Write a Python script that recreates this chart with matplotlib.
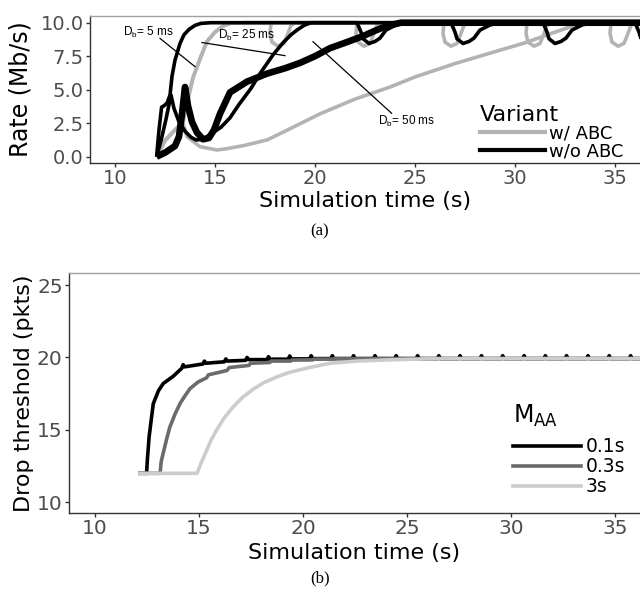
import matplotlib
matplotlib.use("Agg")
import matplotlib.pyplot as plt
from matplotlib.lines import Line2D

plt.rcParams["font.family"] = ["DejaVu Sans"]

# ---- panel (a): rate vs simulation time ----
# w/ ABC (gray)
T_G5 = [12.08, 12.5, 13.0, 13.4, 13.6, 13.9, 14.25, 14.6, 15.0, 15.4, 15.8, 16.5, 36.3]
R_G5 = [0.0, 1.2, 2.0, 2.6, 4.0, 5.9, 7.3, 8.6, 9.3, 9.75, 9.97, 10.0, 10.0]

T_G25 = [12.08, 12.5, 13.0, 13.4, 13.6, 13.9, 14.25, 14.6, 15.0, 15.4, 15.8, 16.5,
         17.8, 17.75, 17.85, 18.15, 18.45, 18.65, 18.8, 19.0,
         22.1, 22.05, 22.15, 22.45, 22.75, 22.95, 23.1, 23.3,
         26.45, 26.4, 26.5, 26.8, 27.1, 27.3, 27.45, 27.65,
         30.6, 30.55, 30.65, 30.95, 31.25, 31.45, 31.6, 31.8,
         34.8, 34.75, 34.85, 35.15, 35.45, 35.65, 35.8, 36.0, 36.3]
R_G25 = [0.0, 1.2, 2.0, 2.6, 4.0, 5.9, 7.3, 8.6, 9.3, 9.75, 9.97, 10.0,
         10.0, 9.2, 8.55, 8.25, 8.45, 9.2, 9.8, 10.0,
         10.0, 9.2, 8.55, 8.25, 8.45, 9.2, 9.8, 10.0,
         10.0, 9.2, 8.55, 8.25, 8.45, 9.2, 9.8, 10.0,
         10.0, 9.2, 8.55, 8.25, 8.45, 9.2, 9.8, 10.0,
         10.0, 9.2, 8.55, 8.25, 8.45, 9.2, 9.8, 10.0, 10.0]

T_G50 = [12.08, 12.5, 13.0, 13.4, 13.6, 14.25, 15.1, 15.6, 16.5, 17.6, 18.5, 20.25,
         22.0, 23.75, 25.0, 27.0, 29.25, 30.5, 32.0, 32.6, 33.3, 36.3]
R_G50 = [0.0, 1.2, 2.0, 2.5, 1.5, 0.75, 0.5, 0.6, 0.85, 1.25, 1.9, 3.2,
         4.3, 5.2, 5.95, 6.95, 7.95, 8.5, 9.3, 9.6, 10.0, 10.0]

# w/o ABC (black)
T_B5 = [12.08, 12.2, 12.33, 12.45, 12.6, 12.75, 12.85, 13.0, 13.25, 13.45, 13.7, 14.0, 14.3, 14.8, 36.3]
R_B5 = [0.0, 2.0, 3.7, 3.8, 4.0, 4.6, 6.0, 7.2, 8.45, 9.1, 9.5, 9.8, 9.95, 10.0, 10.0]

T_B25 = [12.08, 12.3, 12.55, 12.8, 12.95, 13.2, 13.5, 13.8, 14.05, 14.4, 14.8, 15.3, 15.75,
         16.2, 16.8, 17.25, 17.9, 18.4, 18.8, 19.1, 19.45, 19.8,
         22.1, 22.3, 22.4, 22.7, 23.0, 23.25, 23.55, 24.05, 24.55,
         26.8, 27.0, 27.1, 27.4, 27.7, 27.95, 28.25, 28.75, 29.25,
         31.4, 31.6, 31.7, 32.0, 32.3, 32.55, 32.85, 33.35, 33.85,
         36.0, 36.2, 36.3, 36.6]
R_B25 = [0.0, 1.2, 2.8, 4.6, 3.6, 2.6, 1.9, 1.45, 1.25, 1.3, 1.7, 2.2, 2.9,
         3.9, 5.1, 6.2, 7.6, 8.5, 9.1, 9.45, 9.8, 10.0,
         10.0, 9.3, 8.8, 8.45, 8.6, 8.85, 9.45, 9.83, 10.0,
         10.0, 9.3, 8.8, 8.45, 8.6, 8.85, 9.45, 9.83, 10.0,
         10.0, 9.3, 8.8, 8.45, 8.6, 8.85, 9.45, 9.83, 10.0,
         10.0, 9.3, 8.8, 8.45]

T_B50 = [12.08, 12.5, 13.0, 13.2, 13.35, 13.5, 13.65, 13.85, 14.1, 14.4, 14.7, 14.95, 15.25,
         15.75, 16.6, 17.6, 18.5, 19.25, 20.0, 20.75, 21.5, 22.4, 23.0, 23.5, 24.0, 24.3, 36.3]
R_B50 = [0.0, 0.3, 0.8, 1.5, 3.2, 5.2, 3.8, 2.6, 1.8, 1.3, 1.4, 2.0, 3.2,
         4.8, 5.6, 6.2, 6.6, 7.0, 7.5, 8.1, 8.5, 9.0, 9.4, 9.7, 9.9, 10.0, 10.0]

# ---- panel (b): drop threshold ----
T_01 = [12.16, 12.48, 12.52, 12.6, 12.8, 13.05, 13.28, 13.76,
        14.17, 14.24, 14.31, 15.19, 15.26, 15.33, 16.22, 16.29, 16.36,
        17.24, 17.31, 17.38, 18.27, 18.34, 18.41, 19.29, 19.36, 19.43,
        20.32, 20.39, 20.46, 21.34, 21.41, 21.48, 22.36, 22.43, 22.50,
        23.39, 23.46, 23.53, 24.41, 24.48, 24.55, 25.44, 25.51, 25.58,
        26.46, 26.53, 26.60, 27.48, 27.55, 27.62, 28.51, 28.58, 28.65,
        29.53, 29.60, 29.67, 30.56, 30.63, 30.70, 31.58, 31.65, 31.72,
        32.60, 32.67, 32.74, 33.63, 33.70, 33.77, 34.65, 34.72, 34.79,
        35.68, 35.75, 35.82, 36.3]
V_01 = [12.0, 12.0, 13.0, 14.5, 16.8, 17.7, 18.2, 18.7,
        19.25, 19.5, 19.35, 19.55, 19.75, 19.6, 19.7, 19.9, 19.75,
        19.8, 20.0, 19.85, 19.85, 20.05, 19.88, 19.88, 20.1, 19.9,
        19.9, 20.12, 19.92, 19.92, 20.12, 19.92, 19.92, 20.12, 19.92,
        19.92, 20.12, 19.92, 19.92, 20.12, 19.92, 19.92, 20.12, 19.92,
        19.92, 20.12, 19.92, 19.92, 20.12, 19.92, 19.92, 20.12, 19.92,
        19.92, 20.12, 19.92, 19.92, 20.12, 19.92, 19.92, 20.12, 19.92,
        19.92, 20.12, 19.92, 19.92, 20.12, 19.92, 19.92, 20.12, 19.92,
        19.92, 20.12, 19.92, 19.92]

T_03 = [12.16, 13.13, 13.18, 13.28, 13.45, 13.6, 13.85, 14.1, 14.35, 14.57, 14.95, 15.37,
        15.45, 16.35, 16.45, 17.4, 17.48, 18.4, 18.48, 19.4, 19.48, 20.45, 20.52,
        21.45, 21.52, 22.5, 36.3]
V_03 = [12.0, 12.0, 12.8, 13.4, 14.4, 15.2, 16.1, 16.85, 17.4, 17.85, 18.3, 18.6,
        18.8, 19.1, 19.3, 19.45, 19.6, 19.65, 19.75, 19.75, 19.82, 19.83, 19.88,
        19.88, 19.92, 19.92, 19.92]

T_3 = [12.16, 14.9, 15.1, 15.37, 15.6, 15.85, 16.2, 16.65, 17.1, 17.6, 18.1, 18.73,
       19.3, 19.86, 20.3, 20.8, 21.3, 22.0, 22.6, 23.5, 24.5, 25.3, 26.5, 36.3]
V_3 = [12.0, 12.0, 12.7, 13.6, 14.35, 15.0, 15.8, 16.6, 17.25, 17.8, 18.25, 18.65,
       18.95, 19.15, 19.3, 19.45, 19.6, 19.68, 19.75, 19.8, 19.85, 19.88, 19.92, 19.92]

GRAY = "#b3b3b3"
TICK_COLOR = "#4d4d4d"
LW = 2.6


def style_axes(ax, tick_size):
    for side in ("left", "bottom"):
        ax.spines[side].set_color("#333333")
        ax.spines[side].set_linewidth(1.0)
    ax.spines["top"].set_color("#a0a0a0")
    ax.spines["top"].set_linewidth(1.0)
    ax.spines["right"].set_visible(False)
    ax.tick_params(direction="out", length=3, width=1, color="#333333",
                   labelcolor=TICK_COLOR, labelsize=tick_size, pad=1.5)


fig = plt.figure(figsize=(6.4, 5.91), dpi=100)

# panel (a)
ax1 = fig.add_axes([90 / 640, 1 - 163 / 591, 550 / 640, 147 / 591])
ax1.plot(T_G50, R_G50, color=GRAY, lw=LW, solid_capstyle="butt")
ax1.plot(T_G25, R_G25, color=GRAY, lw=LW, solid_capstyle="butt")
ax1.plot(T_G5, R_G5, color=GRAY, lw=LW, solid_capstyle="butt")
ax1.plot(T_B50, R_B50, color="black", lw=4.8, solid_capstyle="butt")
ax1.plot(T_B25, R_B25, color="black", lw=LW, solid_capstyle="butt")
ax1.plot(T_B5, R_B5, color="black", lw=LW, solid_capstyle="butt")

ann = dict(fontsize=8.5, family=["Liberation Sans", "DejaVu Sans"], ha="center", va="center")
ax1.text(11.65, 9.3, r"D$_\mathregular{b}$= 5 ms", **ann)
ax1.plot([12.25, 14.0], [8.83, 6.72], color="black", lw=0.9)
ax1.text(16.6, 9.07, r"D$_\mathregular{b}$= 25 ms", **ann)
ax1.plot([14.35, 18.5], [8.52, 7.54], color="black", lw=0.9)
ax1.text(24.6, 2.66, r"D$_\mathregular{b}$= 50 ms", **ann)
ax1.plot([19.9, 23.83], [8.58, 3.24], color="black", lw=0.9)

ax1.set_xlim(8.75, 36.25)
ax1.set_ylim(-0.47, 10.5)
ax1.set_xticks([10, 15, 20, 25, 30, 35])
ax1.set_yticks([0, 2.5, 5, 7.5, 10])
ax1.set_yticklabels(["0.0", "2.5", "5.0", "7.5", "10.0"])
style_axes(ax1, 14)
ax1.set_xlabel("Simulation time (s)", fontsize=16)
ax1.set_ylabel("Rate (Mb/s)", fontsize=17)
ax1.xaxis.set_label_coords(0.5, -0.19)
ax1.yaxis.set_label_coords(-0.105, 0.5)

h1 = [Line2D([], [], color=GRAY, lw=3), Line2D([], [], color="black", lw=3)]
leg1 = ax1.legend(h1, ["w/ ABC", "w/o ABC"], title="Variant", loc="lower left",
                  bbox_to_anchor=(0.709, 0.015), frameon=False, fontsize=13,
                  title_fontsize=16, handlelength=3.6, handletextpad=0.25,
                  labelspacing=0.0, borderpad=0, borderaxespad=0,
                  alignment="left")

# panel (b)
ax2 = fig.add_axes([69 / 640, 1 - 513 / 591, 571 / 640, 240 / 591])
ax2.plot(T_01, V_01, color="black", lw=LW, label="0.1s")
ax2.plot(T_03, V_03, color="#6b6b6b", lw=LW, label="0.3s")
ax2.plot(T_3, V_3, color="#cccccc", lw=LW, label="3s")
ax2.set_xlim(8.75, 36.2)
ax2.set_ylim(9.26, 25.83)
ax2.set_xticks([10, 15, 20, 25, 30, 35])
ax2.set_yticks([10, 15, 20, 25])
style_axes(ax2, 14.5)
ax2.set_xlabel("Simulation time (s)", fontsize=16)
ax2.set_ylabel("Drop threshold (pkts)", fontsize=16)
ax2.xaxis.set_label_coords(0.5, -0.125)
ax2.yaxis.set_label_coords(-0.062, 0.5)

leg2 = ax2.legend(title=r"M$_\mathregular{AA}$", loc="lower left",
                  bbox_to_anchor=(0.778, 0.07), frameon=False, fontsize=13.5,
                  title_fontsize=17, handlelength=3.6, handletextpad=0.25,
                  labelspacing=0.05, borderpad=0, borderaxespad=0,
                  alignment="left")
leg2._legend_box.sep = 6  # extra gap under the legend title

cap = dict(fontsize=12, family=["Liberation Serif", "DejaVu Serif"], ha="center", va="center")
fig.text(0.5, 1 - 231 / 591, "(a)", **cap)
fig.text(0.5, 1 - 578 / 591, "(b)", **cap)

fig.savefig("out.png", dpi=100)
